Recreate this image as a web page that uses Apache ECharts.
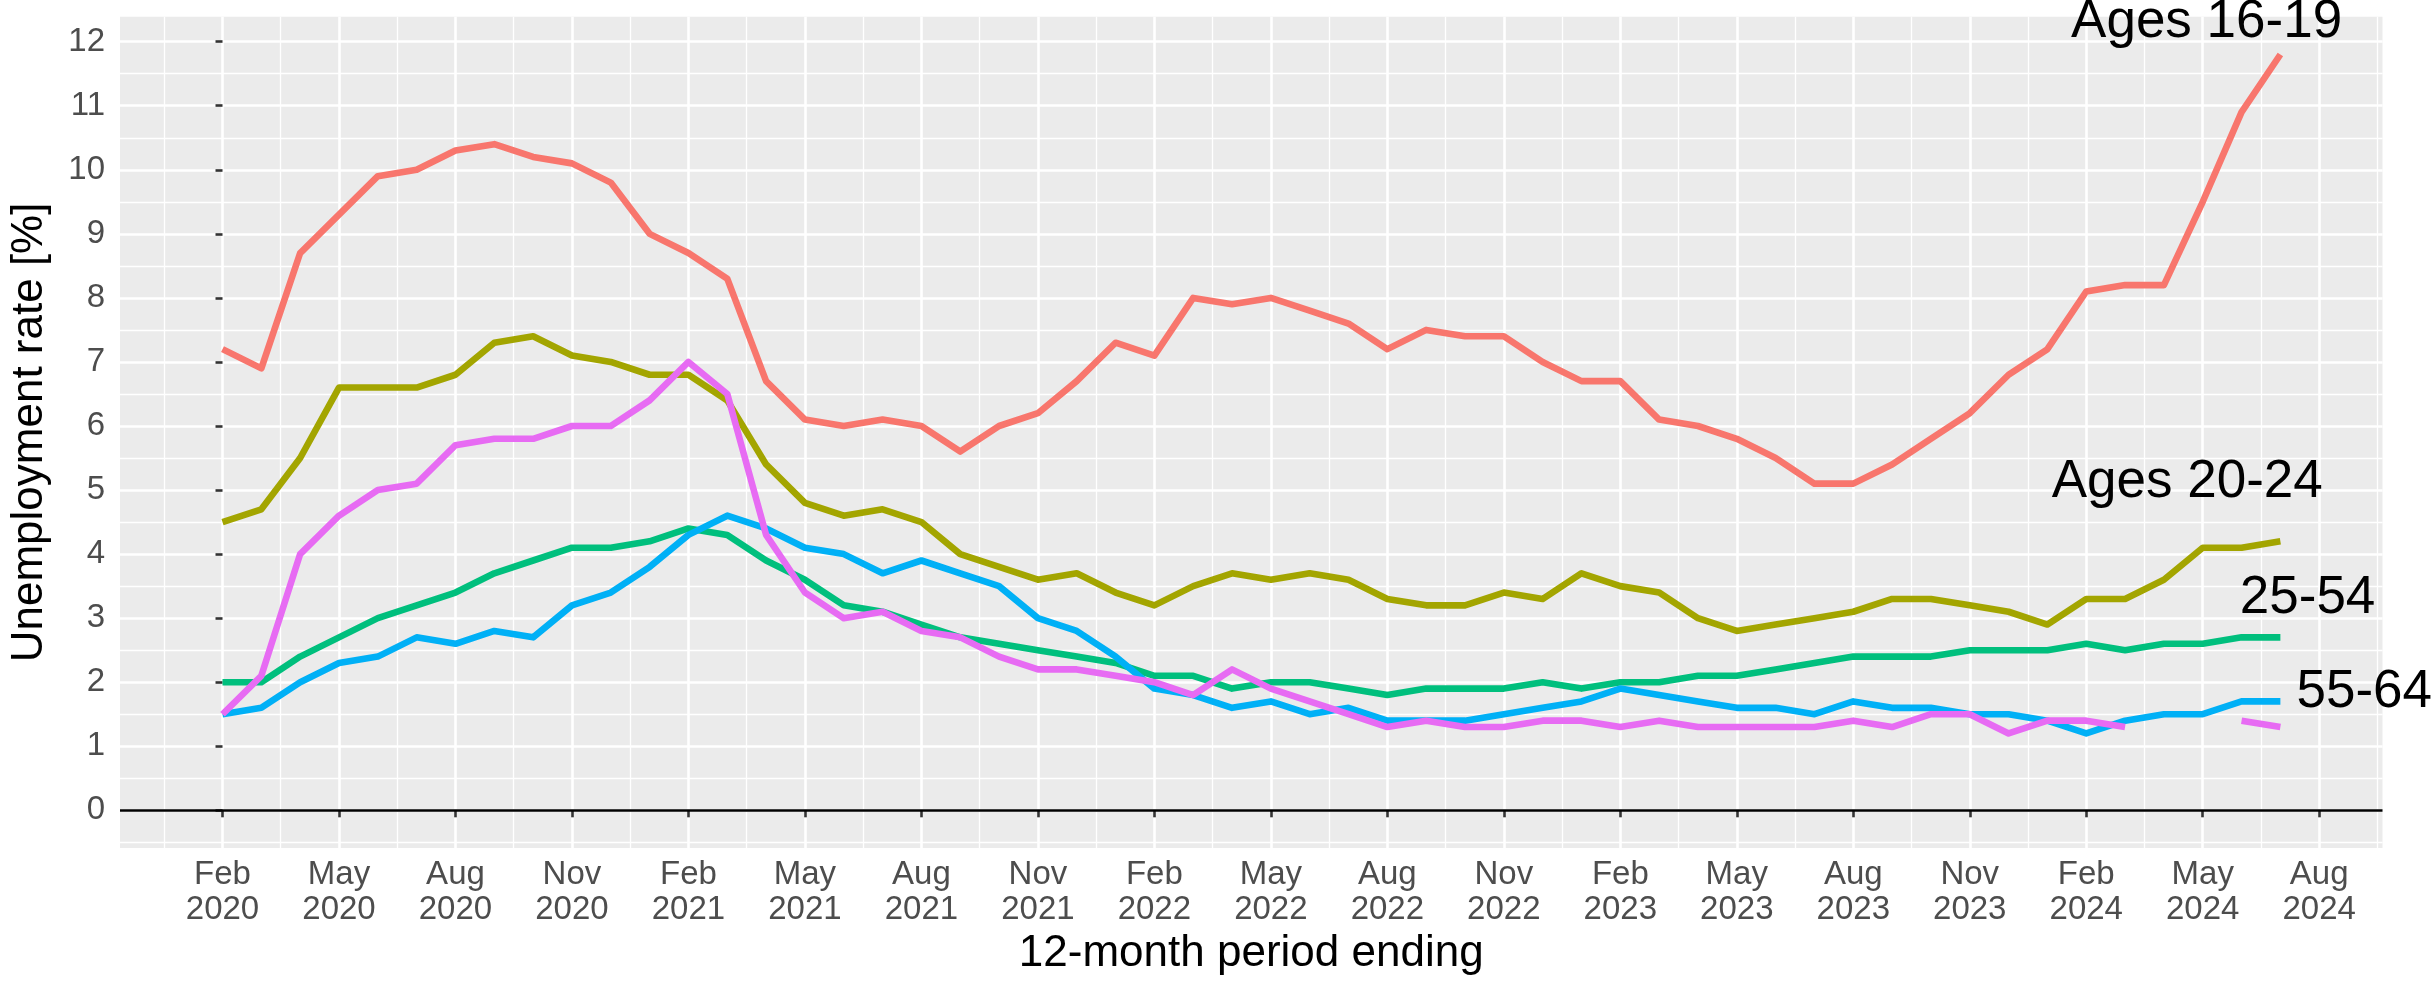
<!DOCTYPE html>
<html>
<head>
<meta charset="utf-8">
<title>Unemployment rate by age group</title>
<script src="https://cdn.jsdelivr.net/npm/echarts@6.0.0/dist/echarts.min.js"></script>
<style>
  html, body { margin: 0; padding: 0; background: #fff; }
  #chart { width: 2432px; height: 981px; }
</style>
</head>
<body>
<div id="chart"></div>
<script>
// monthly points, 12-month period ending Feb 2020 ... Jul 2024 (x = months since Feb 2020)
const tickLabels = [
  'Feb\n2020', 'May\n2020', 'Aug\n2020', 'Nov\n2020',
  'Feb\n2021', 'May\n2021', 'Aug\n2021', 'Nov\n2021',
  'Feb\n2022', 'May\n2022', 'Aug\n2022', 'Nov\n2022',
  'Feb\n2023', 'May\n2023', 'Aug\n2023', 'Nov\n2023',
  'Feb\n2024', 'May\n2024', 'Aug\n2024'
];
const yTicks = [0, 1, 2, 3, 4, 5, 6, 7, 8, 9, 10, 11, 12];

const ages16to19 = [
  7.2, 6.9, 8.7, 9.3, 9.9, 10.0, 10.3, 10.4, 10.2, 10.1, 9.8, 9.0, 8.7, 8.3, 6.7, 6.1,
  6.0, 6.1, 6.0, 5.6, 6.0, 6.2, 6.7, 7.3, 7.1, 8.0, 7.9, 8.0, 7.8, 7.6, 7.2, 7.5, 7.4, 7.4, 7.0, 6.7,
  6.7, 6.1, 6.0, 5.8, 5.5, 5.1, 5.1, 5.4, 5.8, 6.2, 6.8, 7.2, 8.1, 8.2, 8.2, 9.5, 10.9, 11.8
];
const ages20to24 = [
  4.5, 4.7, 5.5, 6.6, 6.6, 6.6, 6.8, 7.3, 7.4, 7.1, 7.0, 6.8, 6.8, 6.4, 5.4, 4.8,
  4.6, 4.7, 4.5, 4.0, 3.8, 3.6, 3.7, 3.4, 3.2, 3.5, 3.7, 3.6, 3.7, 3.6, 3.3, 3.2, 3.2, 3.4, 3.3, 3.7,
  3.5, 3.4, 3.0, 2.8, 2.9, 3.0, 3.1, 3.3, 3.3, 3.2, 3.1, 2.9, 3.3, 3.3, 3.6, 4.1, 4.1, 4.2
];
const ages25to54 = [
  2.0, 2.0, 2.4, 2.7, 3.0, 3.2, 3.4, 3.7, 3.9, 4.1, 4.1, 4.2, 4.4, 4.3, 3.9, 3.6,
  3.2, 3.1, 2.9, 2.7, 2.6, 2.5, 2.4, 2.3, 2.1, 2.1, 1.9, 2.0, 2.0, 1.9, 1.8, 1.9, 1.9, 1.9, 2.0, 1.9,
  2.0, 2.0, 2.1, 2.1, 2.2, 2.3, 2.4, 2.4, 2.4, 2.5, 2.5, 2.5, 2.6, 2.5, 2.6, 2.6, 2.7, 2.7
];
const ages55to64 = [
  1.5, 1.6, 2.0, 2.3, 2.4, 2.7, 2.6, 2.8, 2.7, 3.2, 3.4, 3.8, 4.3, 4.6, 4.4, 4.1,
  4.0, 3.7, 3.9, 3.7, 3.5, 3.0, 2.8, 2.4, 1.9, 1.8, 1.6, 1.7, 1.5, 1.6, 1.4, 1.4, 1.4, 1.5, 1.6, 1.7,
  1.9, 1.8, 1.7, 1.6, 1.6, 1.5, 1.7, 1.6, 1.6, 1.5, 1.5, 1.4, 1.2, 1.4, 1.5, 1.5, 1.7, 1.7
];
const ages65plus = [
  1.5, 2.1, 4.0, 4.6, 5.0, 5.1, 5.7, 5.8, 5.8, 6.0, 6.0, 6.4, 7.0, 6.5, 4.3, 3.4,
  3.0, 3.1, 2.8, 2.7, 2.4, 2.2, 2.2, 2.1, 2.0, 1.8, 2.2, 1.9, 1.7, 1.5, 1.3, 1.4, 1.3, 1.3, 1.4, 1.4,
  1.3, 1.4, 1.3, 1.3, 1.3, 1.3, 1.4, 1.3, 1.5, 1.5, 1.2, 1.4, 1.4, 1.3, null, null, 1.4, 1.3
];

const font = "'Liberation Sans', Arial, Helvetica, sans-serif";
const xMin = -2.64, xMax = 55.63;
const yMin = -0.59, yMax = 12.39;

const majorX = tickLabels.map((_, i) => i * 3);
const minorX = tickLabels.concat(['']).map((_, i) => i * 3 - 1.5);
const minorY = yTicks.map(v => v - 0.5);

const toPoints = arr => arr.map((v, i) => [i, v]);

function lineSeries(name, color, values, tag) {
  const s = {
    name: name,
    type: 'line',
    xAxisIndex: 1,
    yAxisIndex: 1,
    data: toPoints(values),
    showSymbol: false,
    symbol: 'none',
    connectNulls: false,
    lineStyle: { color: color, width: 6.6, join: 'round', cap: 'butt' },
    itemStyle: { color: color },
    z: 3
  };
  if (tag) {
    s.markPoint = {
      silent: true,
      symbol: 'circle',
      symbolSize: 0,
      label: {
        show: true, position: 'inside', formatter: tag.text,
        color: '#000', fontSize: 53, fontFamily: font
      },
      data: [{ coord: tag.at }]
    };
  }
  return s;
}

const chart = echarts.init(document.getElementById('chart'), null, { renderer: 'canvas' });

const tickStyle = { show: true, length: 7, lineStyle: { color: '#333333', width: 2.6 } };
const labelStyle = { color: '#4D4D4D', fontSize: 33, fontFamily: font };

chart.setOption({
  animation: false,
  backgroundColor: '#ffffff',
  grid: {
    left: 111.4, right: 49.5, top: 16.7, bottom: 128.3,
    show: true, backgroundColor: '#EBEBEB', borderWidth: 0
  },
  xAxis: [
    {
      type: 'value', min: xMin, max: xMax, position: 'bottom',
      axisLine: { show: false },
      axisTick: { show: false, customValues: minorX },
      axisLabel: { show: false },
      splitLine: { show: true, lineStyle: { color: '#ffffff', width: 1.3 } }
    },
    {
      type: 'value', min: xMin, max: xMax, position: 'bottom', offset: 0,
      axisLine: { show: false },
      axisTick: Object.assign({ customValues: majorX }, tickStyle),
      axisLabel: Object.assign({
        customValues: majorX, margin: 9, lineHeight: 35, align: 'center',
        formatter: v => tickLabels[Math.round(v / 3)]
      }, labelStyle),
      splitLine: { show: true, lineStyle: { color: '#ffffff', width: 2.6 } },
      name: '12-month period ending',
      nameLocation: 'middle',
      nameGap: 80,
      nameTextStyle: { color: '#000', fontSize: 44, fontFamily: font }
    }
  ],
  yAxis: [
    {
      type: 'value', min: yMin, max: yMax, position: 'left',
      axisLine: { show: false },
      axisTick: { show: false, customValues: minorY },
      axisLabel: { show: false },
      splitLine: { show: true, lineStyle: { color: '#ffffff', width: 1.3 } }
    },
    {
      type: 'value', min: yMin, max: yMax, position: 'left', offset: 0,
      axisLine: { show: false },
      axisTick: Object.assign({ customValues: yTicks }, tickStyle),
      axisLabel: Object.assign({ customValues: yTicks, margin: 15 }, labelStyle),
      splitLine: { show: true, lineStyle: { color: '#ffffff', width: 2.6 } },
      name: 'Unemployment rate [%]',
      nameLocation: 'middle',
      nameRotate: 90,
      nameGap: 68,
      nameTextStyle: { color: '#000', fontSize: 44, fontFamily: font }
    }
  ],
  series: [
    Object.assign(lineSeries('Ages 16-19', '#F8766D', ages16to19, { text: 'Ages 16-19', at: [51.1, 12.3] }), {
      markLine: {
        silent: true, symbol: ['none', 'none'],
        label: { show: false },
        lineStyle: { color: '#000', width: 2.6, type: 'solid' },
        data: [{ yAxis: 0 }]
      }
    }),
    lineSeries('Ages 20-24', '#A3A500', ages20to24, { text: 'Ages 20-24', at: [50.6, 5.12] }),
    lineSeries('Ages 25-54', '#00BF7D', ages25to54, { text: '25-54', at: [53.7, 3.31] }),
    lineSeries('Ages 55-64', '#00B0F6', ages55to64, { text: '55-64', at: [55.16, 1.84] }),
    lineSeries('Ages 65+', '#E76BF3', ages65plus, null)
  ]
});
</script>
</body>
</html>
